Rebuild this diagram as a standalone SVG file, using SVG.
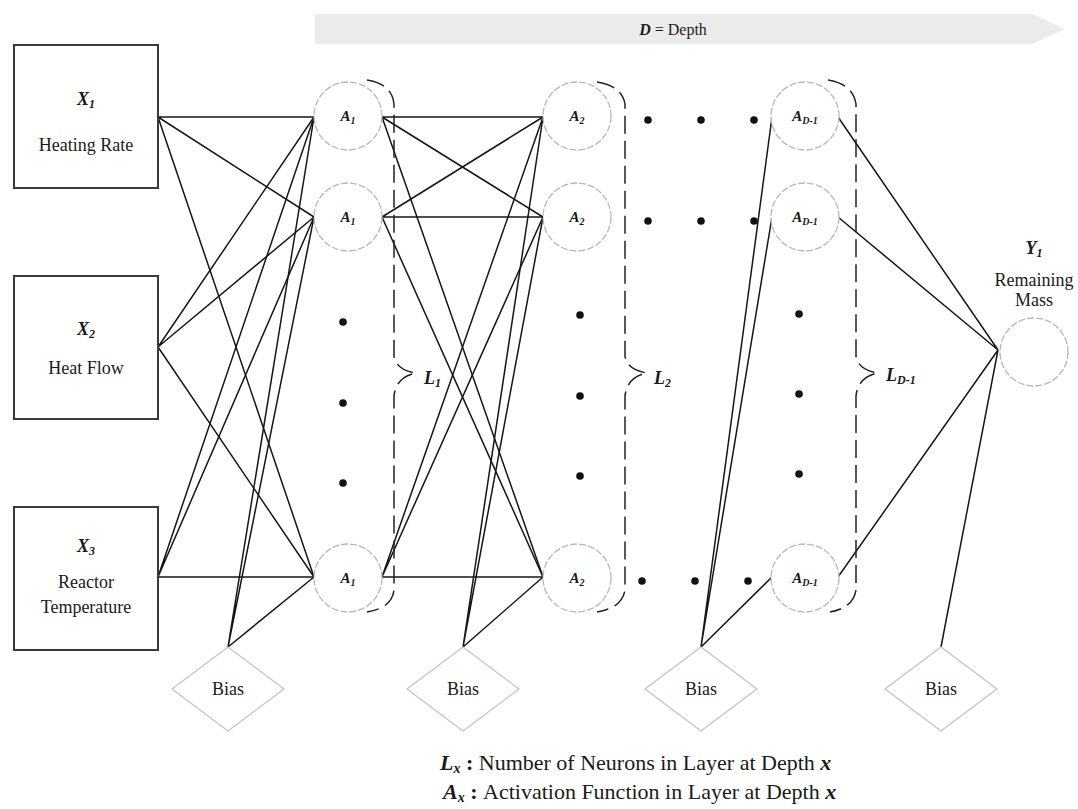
<svg xmlns="http://www.w3.org/2000/svg" width="1078" height="809" viewBox="0 0 1078 809">
  <style>
    text { font-family: "Liberation Serif", "Times New Roman", serif; fill: #1a1a1a; }
    .ln { stroke: #161616; stroke-width: 1.5; fill: none; }
    .box { fill: #fff; stroke: #3a3a3a; stroke-width: 2; }
    .neu { fill: #fff; stroke: #b8b8b8; stroke-width: 1.3; stroke-dasharray: 7 2; }
    .bias { fill: #fff; stroke: #c4c4c4; stroke-width: 1.3; }
    .brace { fill: none; stroke: #222; stroke-width: 1.5; stroke-dasharray: 18 7; }
    .dot { fill: #111; }
    .lbl { font-size: 18px; text-anchor: middle; }
    .sym { font-weight: bold; font-style: italic; }
    .act { font-size: 15px; text-anchor: middle; font-weight: bold; font-style: italic; }
  </style>

  <!-- depth band -->
  <g id="depth">
    <polygon points="315,14 1032,14 1065,29 1032,44 315,44" fill="#ebebeb"/>
    <text x="673" y="35" font-size="16" text-anchor="middle"><tspan class="sym">D</tspan> = Depth</text>
  </g>

  <!-- connectors -->
  <g id="connectors" class="ln">
    <!-- inputs to layer 1 -->
    <path d="M158,117 L314,117 M158,117 L314,217 M158,117 L314,577"/>
    <path d="M158,347 L314,117 M158,347 L314,217 M158,347 L314,577"/>
    <path d="M158,577 L314,117 M158,577 L314,217 M158,577 L314,577"/>
    <path d="M228,647 L314,117 M228,647 L314,217 M228,647 L314,577"/>
    <!-- layer 1 to layer 2 -->
    <path d="M382,117 L543,117 M382,117 L543,217 M382,117 L543,577"/>
    <path d="M382,217 L543,117 M382,217 L543,217 M382,217 L543,577"/>
    <path d="M382,577 L543,117 M382,577 L543,217 M382,577 L543,577"/>
    <path d="M463,647 L543,117 M463,647 L543,217 M463,647 L543,577"/>
    <!-- bias into layer D-1 -->
    <path d="M701,647 L772,117 M701,647 L772,217 M701,647 L772,577"/>
    <!-- layer D-1 to output -->
    <path d="M838,117 L998,350 M838,217 L998,350 M838,577 L998,350 M941,647 L998,350"/>
  </g>

  <!-- layer braces -->
  <g id="braces">
    <path class="brace" d="M367,80 Q392,84 394,104 V356 Q396,370 416,373 Q396,377 394,396 V590 Q392,608 367,612"/>
    <path class="brace" d="M597,82 Q622,86 625,104 V356 Q627,370 647,373 Q627,377 625,396 V590 Q622,608 597,612"/>
    <path class="brace" d="M828,80 Q853,84 856,104 V356 Q858,370 878,373 Q858,377 856,396 V590 Q853,608 830,612"/>
    <text x="424" y="384" font-size="18" class="sym">L<tspan dy="3" font-size="12">1</tspan></text>
    <text x="654" y="384" font-size="18" class="sym">L<tspan dy="3" font-size="12">2</tspan></text>
    <text x="886" y="381" font-size="18" class="sym">L<tspan dy="3" font-size="12">D-1</tspan></text>
  </g>

  <!-- input nodes -->
  <g id="x1">
    <rect class="box" x="14" y="45" width="144" height="143"/>
    <text class="lbl" x="86" y="105"><tspan class="sym">X</tspan><tspan class="sym" dy="3" font-size="12">1</tspan></text>
    <text class="lbl" x="86" y="151">Heating Rate</text>
  </g>
  <g id="x2">
    <rect class="box" x="14" y="276" width="144" height="143"/>
    <text class="lbl" x="86" y="335"><tspan class="sym">X</tspan><tspan class="sym" dy="3" font-size="12">2</tspan></text>
    <text class="lbl" x="86" y="374">Heat Flow</text>
  </g>
  <g id="x3">
    <rect class="box" x="14" y="507" width="144" height="143"/>
    <text class="lbl" x="86" y="552"><tspan class="sym">X</tspan><tspan class="sym" dy="3" font-size="12">3</tspan></text>
    <text class="lbl" x="86" y="588">Reactor</text>
    <text class="lbl" x="86" y="613">Temperature</text>
  </g>

  <!-- layer 1 -->
  <g id="layer1">
    <circle class="neu" cx="348" cy="116" r="34"/>
    <text class="act" x="348" y="121">A<tspan dy="3" font-size="10">1</tspan></text>
    <circle class="neu" cx="348" cy="217" r="34"/>
    <text class="act" x="348" y="222">A<tspan dy="3" font-size="10">1</tspan></text>
    <circle class="neu" cx="348" cy="578" r="34"/>
    <text class="act" x="348" y="583">A<tspan dy="3" font-size="10">1</tspan></text>
    <circle class="dot" cx="343" cy="322" r="3.8"/>
    <circle class="dot" cx="343" cy="403" r="3.8"/>
    <circle class="dot" cx="343" cy="483" r="3.8"/>
  </g>

  <!-- layer 2 -->
  <g id="layer2">
    <circle class="neu" cx="577" cy="116" r="34"/>
    <text class="act" x="577" y="121">A<tspan dy="3" font-size="10">2</tspan></text>
    <circle class="neu" cx="577" cy="217" r="34"/>
    <text class="act" x="577" y="222">A<tspan dy="3" font-size="10">2</tspan></text>
    <circle class="neu" cx="577" cy="578" r="34"/>
    <text class="act" x="577" y="583">A<tspan dy="3" font-size="10">2</tspan></text>
    <circle class="dot" cx="580" cy="315" r="3.8"/>
    <circle class="dot" cx="580" cy="396" r="3.8"/>
    <circle class="dot" cx="580" cy="476" r="3.8"/>
  </g>

  <!-- intermediate layers -->
  <g id="ellipsis">
    <circle class="dot" cx="648" cy="120" r="3.8"/>
    <circle class="dot" cx="701" cy="120" r="3.8"/>
    <circle class="dot" cx="754" cy="120" r="3.8"/>
    <circle class="dot" cx="648" cy="221" r="3.8"/>
    <circle class="dot" cx="701" cy="221" r="3.8"/>
    <circle class="dot" cx="754" cy="221" r="3.8"/>
    <circle class="dot" cx="642" cy="581" r="3.8"/>
    <circle class="dot" cx="695" cy="581" r="3.8"/>
    <circle class="dot" cx="748" cy="581" r="3.8"/>
  </g>

  <!-- layer D-1 -->
  <g id="layerD1">
    <circle class="neu" cx="805" cy="116" r="34"/>
    <text class="act" x="805" y="121">A<tspan dy="3" font-size="10">D-1</tspan></text>
    <circle class="neu" cx="805" cy="217" r="34"/>
    <text class="act" x="805" y="222">A<tspan dy="3" font-size="10">D-1</tspan></text>
    <circle class="neu" cx="805" cy="578" r="34"/>
    <text class="act" x="805" y="583">A<tspan dy="3" font-size="10">D-1</tspan></text>
    <circle class="dot" cx="799" cy="314" r="3.8"/>
    <circle class="dot" cx="799" cy="394" r="3.8"/>
    <circle class="dot" cx="799" cy="474" r="3.8"/>
  </g>

  <!-- output -->
  <g id="y1">
    <circle class="neu" cx="1034" cy="352" r="34"/>
    <text class="lbl" x="1034" y="254"><tspan class="sym">Y</tspan><tspan class="sym" dy="3" font-size="12">1</tspan></text>
    <text class="lbl" x="1034" y="286">Remaining</text>
    <text class="lbl" x="1034" y="306">Mass</text>
  </g>

  <!-- bias nodes -->
  <g id="bias1">
    <polygon class="bias" points="228,647 284,689 228,731 172,689"/>
    <text class="lbl" x="228" y="695" font-size="17">Bias</text>
  </g>
  <g id="bias2">
    <polygon class="bias" points="463,647 519,689 463,731 407,689"/>
    <text class="lbl" x="463" y="695" font-size="17">Bias</text>
  </g>
  <g id="bias3">
    <polygon class="bias" points="701,647 757,689 701,731 645,689"/>
    <text class="lbl" x="701" y="695" font-size="17">Bias</text>
  </g>
  <g id="bias4">
    <polygon class="bias" points="941,647 997,689 941,731 885,689"/>
    <text class="lbl" x="941" y="695" font-size="17">Bias</text>
  </g>

  <!-- legend -->
  <g id="legend" font-size="22">
    <text x="440" y="770"><tspan class="sym">L</tspan><tspan class="sym" dy="3" font-size="14">x</tspan><tspan dy="-3" font-weight="bold"> : </tspan>Number of Neurons in Layer at Depth <tspan class="sym">x</tspan></text>
    <text x="443" y="799"><tspan class="sym">A</tspan><tspan class="sym" dy="3" font-size="14">x</tspan><tspan dy="-3" font-weight="bold"> : </tspan>Activation Function in Layer at Depth <tspan class="sym">x</tspan></text>
  </g>
</svg>
